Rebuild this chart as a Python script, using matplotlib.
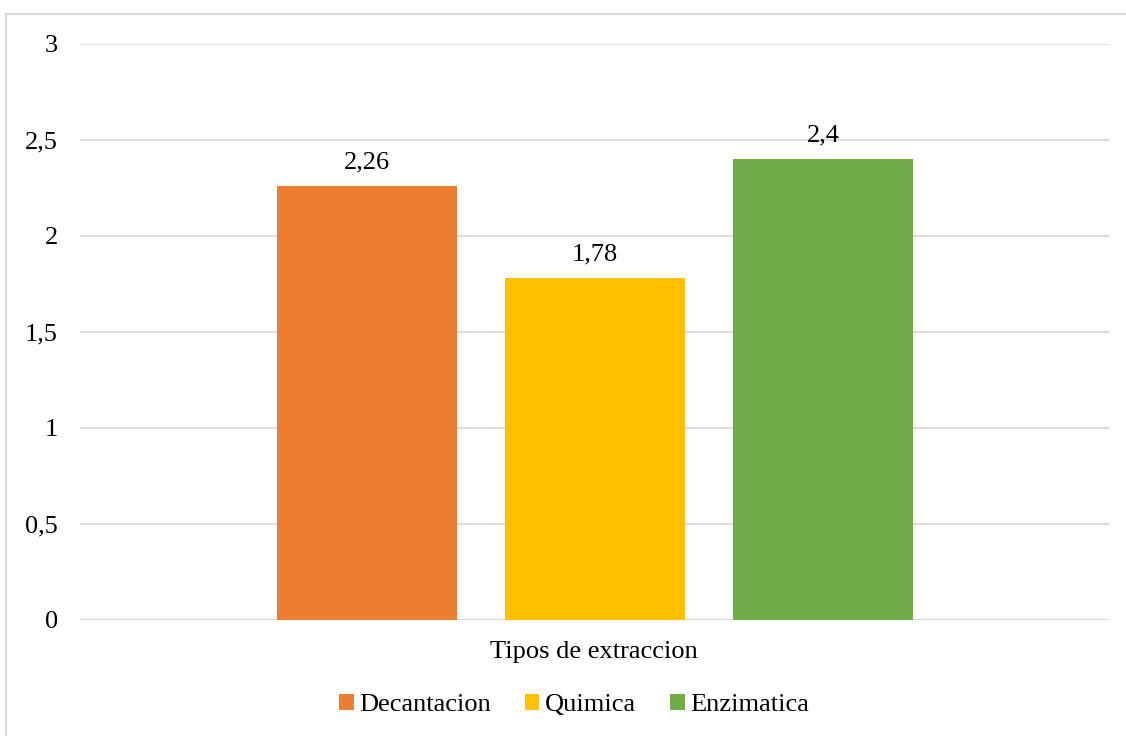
import matplotlib
matplotlib.use("Agg")
import matplotlib.pyplot as plt
from matplotlib.patches import Patch, Rectangle

categories = ["Decantacion", "Quimica", "Enzimatica"]
values = [2.26, 1.78, 2.4]
value_labels = ["2,26", "1,78", "2,4"]
colors = ["#ED7D31", "#FFC000", "#70AD47"]
yticks = [0, 0.5, 1, 1.5, 2, 2.5, 3]
ytick_labels = ["0", "0,5", "1", "1,5", "2", "2,5", "3"]
xlabel = "Tipos de extraccion"

plt.rcParams["font.family"] = ["Liberation Serif", "DejaVu Serif"]
FS = 19

W, H = 1126, 736
fig = plt.figure(figsize=(W / 100, H / 100), dpi=100)
ax = fig.add_axes([80 / W, (H - 620) / H, 1030 / W, 576 / H])

# outer frame (top & left visible)
fig.patches.append(Rectangle((6 / W, -0.1), 1.2, (H - 14) / H + 0.1,
                             transform=fig.transFigure, fill=False,
                             edgecolor="#D9D9D9", linewidth=1.5))

pos = list(range(len(categories)))
width = 180 / 228
bars = ax.bar(pos, values, width=width, color=colors, zorder=3)
for b, lab in zip(bars, value_labels):
    ax.annotate(lab, (b.get_x() + b.get_width() / 2, b.get_height()),
                xytext=(0, 9), textcoords="offset points",
                ha="center", va="bottom", fontsize=FS, color="#000000")

half = 1030 / 228 / 2
ax.set_xlim(1 - half, 1 + half)
ax.set_ylim(0, 3)
ax.set_yticks(yticks)
ax.set_yticklabels(ytick_labels, fontsize=FS)
ax.set_xticks([])
ax.tick_params(axis="y", length=0, pad=16)
ax.grid(axis="y", color="#D9D9D9", linewidth=1.3, zorder=0)
for s in ax.spines.values():
    s.set_visible(False)
ax.axhline(0, color="#D9D9D9", linewidth=1.3, zorder=2)

fig.text(594 / W, 1 - 652 / H, xlabel, ha="center", va="center", fontsize=FS)

handles = [Patch(facecolor=c, edgecolor="none") for c in colors]
fig.legend(handles, categories, loc="center", bbox_to_anchor=(574 / W, 1 - 705 / H),
           ncol=3, frameon=False, fontsize=FS, handlelength=0.55, handleheight=0.55,
           handletextpad=0.2, columnspacing=1.3)

fig.savefig("out.png", dpi=100)
